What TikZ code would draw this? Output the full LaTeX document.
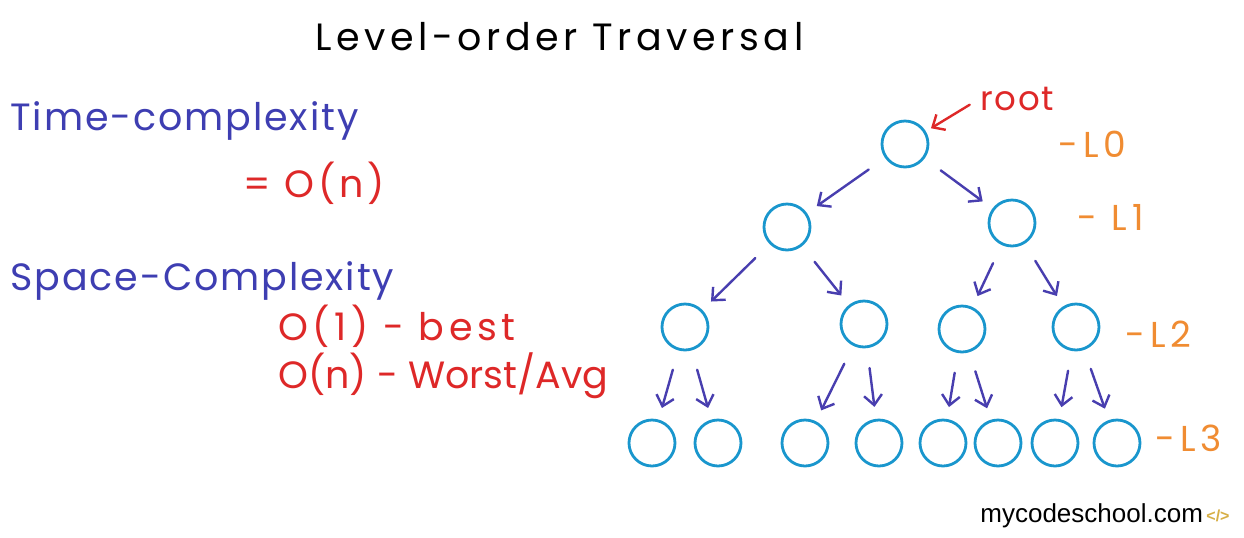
\documentclass[tikz,border=0pt]{standalone}
\usepackage{fontspec}
\setmainfont{Poppins}
\newfontfamily\wmfont{Liberation Sans}
\usetikzlibrary{arrows.meta}
\definecolor{tblue}{RGB}{62,62,178}
\definecolor{ablue}{RGB}{72,62,175}
\definecolor{tred}{RGB}{222,40,40}
\definecolor{torange}{RGB}{240,140,50}
\definecolor{ccyan}{RGB}{25,150,205}
\definecolor{tgold}{RGB}{215,175,70}
\begin{document}
\begin{tikzpicture}[x=0.5pt,y=-0.5pt,
  nd/.style={circle, draw=ccyan, line width=1.4pt, minimum size=23pt, inner sep=0pt},
  arr/.style={-{Straight Barb[length=5pt,width=9pt]}, draw=ablue, line width=1.2pt, line cap=round, shorten <=10pt, shorten >=6pt},
  rarr/.style={-{Straight Barb[length=5pt,width=9pt]}, draw=tred, line width=1.2pt, line cap=round},
  txt/.style={anchor=base west, inner sep=0pt},
  bluetxt/.style={txt, text=tblue, font=\fontsize{19}{22}\selectfont\addfontfeatures{LetterSpace=5}},
  redtxt/.style={txt, text=tred, font=\fontsize{19}{22}\selectfont\addfontfeatures{LetterSpace=5}},
  lvl/.style={txt, text=torange, font=\fontsize{18}{22}\selectfont\addfontfeatures{LetterSpace=14}}
]
\useasboundingbox[fill=white] (0,0) rectangle (1244,537);

% title and texts
\node[txt, font=\fontsize{19}{22}\selectfont\addfontfeatures{LetterSpace=12}] (title) at (315,50) {Level-order Traversal};
\node[bluetxt] (tc) at (10,130) {Time-complexity};
\node[redtxt, font=\fontsize{19}{22}\selectfont\addfontfeatures{LetterSpace=10}] (on) at (243,197) {= O(n)};
\node[bluetxt] (sc) at (10,290) {Space-Complexity};
\node[redtxt, font=\fontsize{19}{22}\selectfont\addfontfeatures{LetterSpace=12}] (best) at (278,340) {O(1) - best};
\node[redtxt, font=\fontsize{19}{22}\selectfont] (worst) at (278,388) {O(n) - Worst/Avg};

% tree nodes
\node[nd] (r) at (905,144) {};
\node[nd] (a) at (787,227) {};
\node[nd] (b) at (1012,223) {};
\node[nd] (a1) at (685,327) {};
\node[nd] (a2) at (864,324) {};
\node[nd] (b1) at (962,329) {};
\node[nd] (b2) at (1076,327) {};
\node[nd] (c1) at (652,443) {};
\node[nd] (c2) at (718,443) {};
\node[nd] (c3) at (805,443) {};
\node[nd] (c4) at (879,443) {};
\node[nd] (c5) at (943,443) {};
\node[nd] (c6) at (998,443) {};
\node[nd] (c7) at (1055,443) {};
\node[nd] (c8) at (1117,443) {};

\foreach \p/\c in {r/a, r/b, a/a1, a/a2, b/b1, b/b2, a1/c1, a1/c2, a2/c3, a2/c4, b1/c5, b1/c6, b2/c7, b2/c8}
  \draw[arr] (\p) -- (\c);

% root label
\node[txt, text=tred, font=\fontsize{17}{20}\selectfont\addfontfeatures{LetterSpace=5}] (rl) at (980,110) {root};
\draw[rarr, shorten <=6pt, shorten >=3pt] (rl.west) -- (r);

% level labels
\node[lvl] (l0) at (1058,157) {-L0};
\node[lvl] (l1) at (1077,230) {- L1};
\node[lvl] (l2) at (1125,347) {-L2};
\node[lvl] (l3) at (1155,451) {-L3};

% watermark
\node[txt, font=\wmfont\fontsize{13}{16}\selectfont] (wm) at (980,522) {mycodeschool.com};
\node[txt, text=tgold, font=\wmfont\bfseries\fontsize{8}{10}\selectfont] (logo) at (1206,521) {</>};
\end{tikzpicture}
\end{document}
